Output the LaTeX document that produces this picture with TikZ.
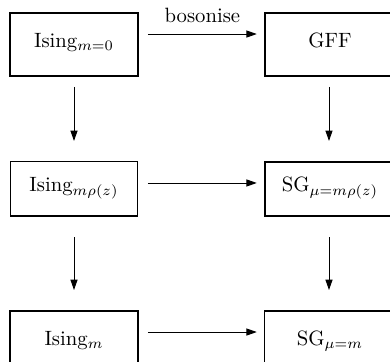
\documentclass[tikz,border=0pt]{standalone}
\usetikzlibrary{arrows.meta,calc}
\begin{document}
\begin{tikzpicture}[x=0.483pt,y=-0.483pt,
  box/.style={draw, rectangle, inner sep=0pt, outer sep=0pt, text height=5pt, text depth=2.1pt},
  lbox/.style={box, minimum width=61.8pt},
  rbox/.style={box, minimum width=63pt},
  tallbox/.style={minimum height=30.4pt},
  midbox/.style={minimum height=26.1pt},
  arr/.style={-{Triangle[length=5pt,width=3.4pt]}, line width=0.45pt}]
\clip (0,0) rectangle (390,362);
% top row
\node[lbox, tallbox, line width=0.8pt] (a) at (74,44.5) {Ising$_{m=0}$};
\node[rbox, tallbox, line width=0.8pt] (b) at (330,44.5) {GFF};
% middle row
\node[lbox, midbox, line width=0.5pt] (c) at (74,189) {Ising$_{m\rho(z)}$};
\node[rbox, midbox, line width=0.8pt] (d) at (330,189) {SG$_{\mu=m\rho(z)}$};
% bottom row
\node[lbox, tallbox, line width=0.6pt] (e) at (74,342.5) {Ising$_{m}$};
\node[rbox, tallbox, line width=0.6pt] (f) at (330,342.5) {SG$_{\mu=m}$};
% horizontal arrows
\draw[arr] ($(a.north east)+(10,21)$) -- node[above, yshift=2pt] {bosonise} ($(b.north west)+(-8,21)$);
\draw[arr] ($(c.north east)+(10,21)$) -- ($(d.north west)+(-8,21)$);
\draw[arr] ($(e.north east)+(10,21)$) -- ($(f.north west)+(-8,21)$);
% vertical arrows
\draw[arr] ($(a.south)+(0,11)$) -- ($(c.north)+(0,-21)$);
\draw[arr] ($(b.south)+(-1,11)$) -- ($(d.north)+(-1,-21)$);
\draw[arr] ($(c.south)+(0,21)$) -- ($(e.north)+(0,-21)$);
\draw[arr] ($(d.south)+(-1,21)$) -- ($(f.north)+(-1,-21)$);
\end{tikzpicture}
\end{document}
